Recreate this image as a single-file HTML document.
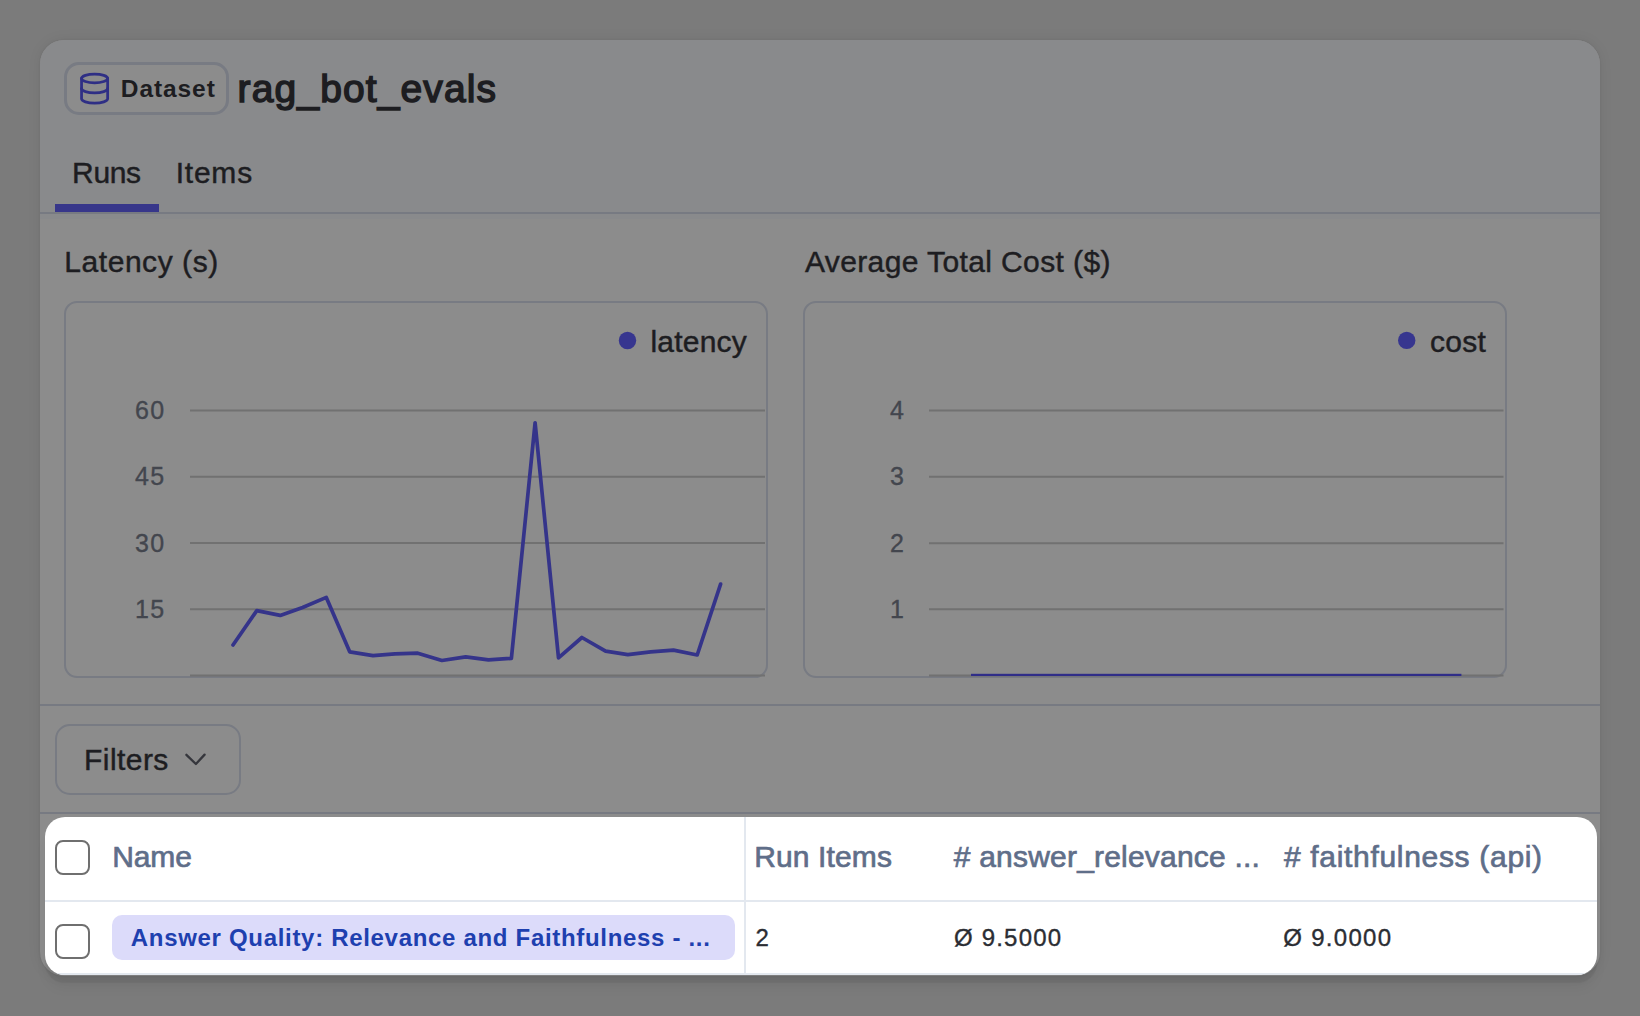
<!DOCTYPE html>
<html>
<head>
<meta charset="utf-8">
<style>
html,body{margin:0;padding:0;}
body{width:1640px;height:1016px;overflow:hidden;background:#7b7b7b;position:relative;font-family:"Liberation Sans",sans-serif;}
.abs{position:absolute;box-sizing:border-box;}
#card{left:40px;top:40px;width:1560px;height:936px;background:#8c8c8c;border-radius:24px;box-shadow:0 0 2px rgba(0,0,0,0.10), 0 0 14px rgba(0,0,0,0.07);overflow:hidden;}
#cardhead{position:absolute;left:0;top:0;width:100%;height:179px;background:#898a8c;}
#badge{left:64px;top:62px;width:165px;height:53px;border:3.5px solid #787b83;border-radius:15px;background:#8c8c8c;}
.sep{left:40px;width:1560px;height:2px;background:#777a82;}
#tabline{left:55px;top:204px;width:104px;height:8px;background:#37368a;}
.chartbox{top:301px;width:704px;height:377px;border:2px solid #787b83;border-radius:13px;}
#filters{left:55px;top:724px;width:186px;height:71px;border:2px solid #787b83;border-radius:15px;}
#table{left:45px;top:817px;width:1552px;height:158px;background:#fff;border-radius:20px;overflow:hidden;
  box-shadow:0 8px 1px rgba(0,0,0,0.06), 0 14px 12px rgba(0,0,0,0.04);}
.hl{position:absolute;left:0;width:100%;height:2px;background:#e3e8ef;}
.vl{position:absolute;top:0;width:2px;height:100%;background:#e3e8ef;}
.cb{position:absolute;left:10px;width:35px;height:35px;border:2.5px solid #6f6f6f;border-radius:8px;box-sizing:border-box;background:#fff;}
#pill{position:absolute;left:67px;top:98px;width:623px;height:45px;background:#dcdbfa;border-radius:10px;}
svg{position:absolute;left:0;top:0;}
</style>
</head>
<body>
<div id="card" class="abs"><div id="cardhead"></div></div>
<div id="badge" class="abs"></div>
<div class="abs sep" style="top:212px;"></div>
<div id="tabline" class="abs"></div>
<div class="abs chartbox" style="left:64px;"></div>
<div class="abs chartbox" style="left:803px;"></div>
<div class="abs sep" style="top:704px;"></div>
<div id="filters" class="abs"></div>
<div class="abs sep" style="top:812px;"></div>

<svg width="1640" height="1016" viewBox="0 0 1640 1016" font-family="Liberation Sans, sans-serif">
  <!-- database icon -->
  <g transform="translate(77.2,71.2) scale(1.45)" fill="none" stroke="#2f2f85" stroke-width="1.9" stroke-linecap="round" stroke-linejoin="round">
    <ellipse cx="12" cy="5" rx="9" ry="3"/>
    <path d="M3 5V19A9 3 0 0 0 21 19V5"/>
    <path d="M3 12A9 3 0 0 0 21 12"/>
  </g>
  <text x="120.80" y="97.1" font-size="24.5" letter-spacing="0.917" fill="#1d1d21" font-weight="bold">Dataset</text>
  <text x="237.60" y="102.4" font-size="39" letter-spacing="1.125" fill="#1d1d21" stroke="#1d1d21" stroke-width="1.5">rag_bot_evals</text>
  <text x="72.10" y="183.2" font-size="30" letter-spacing="-0.367" fill="#1d1d21" stroke="#1d1d21" stroke-width="0.45">Runs</text>
  <text x="175.70" y="183.2" font-size="30" letter-spacing="0.775" fill="#1d1d21" stroke="#1d1d21" stroke-width="0.45">Items</text>
  <text x="64.30" y="271.7" font-size="30" letter-spacing="0.550" fill="#1d1d21" stroke="#1d1d21" stroke-width="0.45">Latency (s)</text>
  <text x="804.90" y="271.8" font-size="30" letter-spacing="0.390" fill="#1d1d21" stroke="#1d1d21" stroke-width="0.45">Average Total Cost ($)</text>
  <text x="650.40" y="351.7" font-size="30" letter-spacing="0.217" fill="#1d1d21" stroke="#1d1d21" stroke-width="0.45">latency</text>
  <text x="1429.90" y="351.8" font-size="30" letter-spacing="0.333" fill="#1d1d21" stroke="#1d1d21" stroke-width="0.45">cost</text>
  <text x="84.00" y="769.9" font-size="30" letter-spacing="0.450" fill="#1d1d21" stroke="#1d1d21" stroke-width="0.45">Filters</text>
  <circle cx="627.5" cy="340.5" r="8.7" fill="#37368f"/>
  <circle cx="1406.7" cy="340.4" r="8.7" fill="#37368f"/>
  <!-- grid lines -->
  <g stroke="#717171" stroke-width="2">
    <line x1="190" y1="410.4" x2="765" y2="410.4"/>
    <line x1="190" y1="476.7" x2="765" y2="476.7"/>
    <line x1="190" y1="543" x2="765" y2="543"/>
    <line x1="190" y1="609.3" x2="765" y2="609.3"/>
    <line x1="190" y1="675.5" x2="765" y2="675.5"/>
    <line x1="929" y1="410.4" x2="1503.5" y2="410.4"/>
    <line x1="929" y1="476.8" x2="1503.5" y2="476.8"/>
    <line x1="929" y1="543.2" x2="1503.5" y2="543.2"/>
    <line x1="929" y1="609.3" x2="1503.5" y2="609.3"/>
    <line x1="929" y1="675.4" x2="1503.5" y2="675.4"/>
  </g>
  <g fill="#43464e" stroke="#43464e" stroke-width="0.35" font-size="25" text-anchor="end" letter-spacing="1.2">
    <text x="165.3" y="418.6">60</text>
    <text x="165.3" y="485">45</text>
    <text x="165.3" y="551.5">30</text>
    <text x="165.3" y="617.7">15</text>
    <text x="905.1" y="418.7">4</text>
    <text x="905.1" y="485.2">3</text>
    <text x="905.1" y="551.8">2</text>
    <text x="905.1" y="617.8">1</text>
  </g>
  <polyline fill="none" stroke="#35348a" stroke-width="3.7" stroke-linejoin="round" stroke-linecap="round"
    points="233,645 256.8,610.6 280.2,615.4 302.6,607.5 326.3,597.4 349.7,651.8 373,655.6 394.9,653.8 417.8,653.2 441.9,660.5 465.7,656.9 488.5,659.8 511.4,658.3 535.1,422.8 558.5,657.8 581.9,637.5 605.6,651.2 627.8,654.6 650.7,651.8 673.5,650.1 697.2,655 720.6,584.1"/>
  <rect x="971" y="673.8" width="490.4" height="2.2" fill="#302e88"/>
  <!-- chevron -->
  <path d="M186.4 754.8 L195.9 764 L204.6 754.6" fill="none" stroke="#35363c" stroke-width="2.3" stroke-linecap="round" stroke-linejoin="round"/>
</svg>

<div id="table" class="abs">
  <div class="hl" style="top:83px;"></div>
  <div class="hl" style="top:156px;"></div>
  <div class="vl" style="left:699px;"></div>
  <div class="cb" style="top:23px;"></div>
  <div class="cb" style="top:107px;"></div>
  <div id="pill"></div>
  <svg width="1552" height="158" viewBox="45 817 1552 158" font-family="Liberation Sans, sans-serif">
    <text x="112.30" y="866.9" font-size="30" letter-spacing="-0.167" fill="#5f6e89" stroke="#5f6e89" stroke-width="0.7">Name</text>
    <text x="754.20" y="866.5" font-size="30" letter-spacing="0.125" fill="#5f6e89" stroke="#5f6e89" stroke-width="0.7">Run Items</text>
    <text x="953.80" y="866.5" font-size="30" letter-spacing="0.200" fill="#5f6e89" stroke="#5f6e89" stroke-width="0.7"># answer_relevance ...</text>
    <text x="1283.90" y="866.5" font-size="30" letter-spacing="0.689" fill="#5f6e89" stroke="#5f6e89" stroke-width="0.7"># faithfulness (api)</text>
    <text x="130.80" y="946" font-size="24" letter-spacing="0.687" fill="#1e40af" font-weight="bold">Answer Quality: Relevance and Faithfulness - ...</text>
    <text x="755.60" y="946" font-size="24" letter-spacing="0.000" fill="#2b2d33" stroke="#2b2d33" stroke-width="0.35">2</text>
    <text x="953.90" y="945.5" font-size="24" letter-spacing="1.214" fill="#2b2d33" stroke="#2b2d33" stroke-width="0.35">Ø 9.5000</text>
    <text x="1283.20" y="945.5" font-size="24" letter-spacing="1.314" fill="#2b2d33" stroke="#2b2d33" stroke-width="0.35">Ø 9.0000</text>
  </svg>
</div>
</body>
</html>
